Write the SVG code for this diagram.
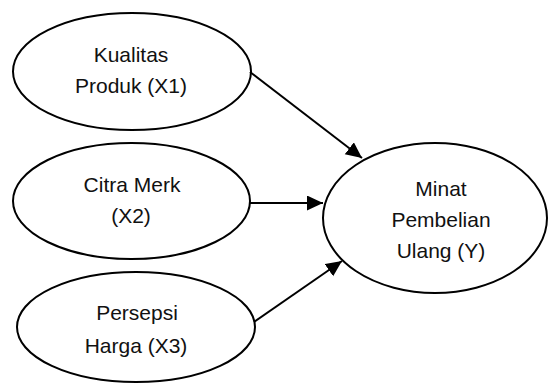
<svg xmlns="http://www.w3.org/2000/svg" width="548" height="383" viewBox="0 0 548 383">
<style>
.node ellipse{fill:#fff;stroke:#000;stroke-width:2}
.node text{font-family:"Liberation Sans",Arial,sans-serif;font-size:21px;fill:#111;text-anchor:middle}
.conn line{stroke:#000;stroke-width:2}
</style>
<defs>
<marker id="ah" markerUnits="userSpaceOnUse" markerWidth="18" markerHeight="16" refX="16" refY="7.5" orient="auto">
<path d="M0,0 L16,7.5 L0,15 z" fill="#000"/>
</marker>
</defs>
<rect width="548" height="383" fill="#fff"/>
<g id="x1" class="node">
<ellipse cx="132" cy="71.5" rx="119" ry="58.5"/>
<text x="131" y="62">Kualitas</text>
<text x="131" y="93">Produk (X1)</text>
</g>
<g id="x2" class="node">
<ellipse cx="131.5" cy="201" rx="118.5" ry="58"/>
<text x="132" y="192">Citra Merk</text>
<text x="131" y="223">(X2)</text>
</g>
<g id="x3" class="node">
<ellipse cx="136" cy="327" rx="119" ry="55"/>
<text x="137" y="320">Persepsi</text>
<text x="136" y="353">Harga (X3)</text>
</g>
<g id="y" class="node">
<ellipse cx="435" cy="218" rx="112" ry="75"/>
<text x="441" y="196">Minat</text>
<text x="441" y="227">Pembelian</text>
<text x="441" y="258">Ulang (Y)</text>
</g>
<g id="connectors" class="conn">
<line x1="250" y1="72" x2="362" y2="158" marker-end="url(#ah)"/>
<line x1="250" y1="203" x2="323" y2="203" marker-end="url(#ah)"/>
<line x1="254" y1="322" x2="342" y2="261" marker-end="url(#ah)"/>
</g>
</svg>
